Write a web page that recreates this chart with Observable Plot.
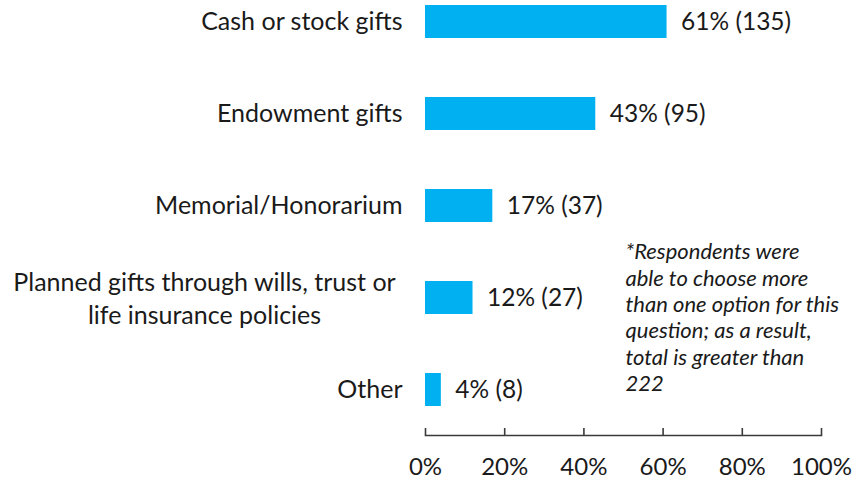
<!DOCTYPE html>
<html>
<head>
<meta charset="utf-8">
<script src="https://cdn.jsdelivr.net/npm/d3@7"></script>
<script src="https://cdn.jsdelivr.net/npm/@observablehq/plot@0.6"></script>
<style>
  html, body { margin: 0; padding: 0; background: #fff; }
  #chart svg { display: block; }
</style>
</head>
<body>
<div id="chart"></div>
<script>
const categories = ["Cash or stock gifts", "Endowment gifts", "Memorial/Honorarium", "Planned gifts through wills, trust or life insurance policies", "Other"];
const displayLabels = ["Cash or stock gifts", "Endowment gifts", "Memorial/Honorarium", "Planned gifts through wills, trust or\nlife insurance policies", "Other"];
const shares = [0.61, 0.43, 0.17, 0.12, 0.04];
const counts = [135, 95, 37, 27, 8];
const xTicks = [0, 0.2, 0.4, 0.6, 0.8, 1.0];
const note = "*Respondents were\nable to choose more\nthan one option for this\nquestion; as a result,\ntotal is greater than\n222";

const data = categories.map((c, i) => ({category: c, label: displayLabels[i], share: shares[i], count: counts[i]}));
const singleLine = data.filter(d => !d.label.includes("\n"));
const multiLine = data.filter(d => d.label.includes("\n"));

const font = "Lato, Carlito, Calibri, 'Open Sans', sans-serif";
const ink = "#1a1a1a";

const chart = Plot.plot({
  width: 854,
  height: 482,
  marginLeft: 425,
  marginRight: 33,
  marginTop: 0,
  marginBottom: 47,
  style: {fontFamily: font, background: "#fff", color: ink},
  x: {domain: [0, 1], axis: null},
  y: {domain: categories, paddingInner: 0.64, paddingOuter: 0.184, align: 0.15, axis: null},
  marks: [
    Plot.barX(data, {y: "category", x: "share", fill: "#00B0F0"}),
    Plot.text(data, {y: "category", x: "share", text: d => `${Math.round(d.share * 100)}% (${d.count})`,
      textAnchor: "start", dx: 14, fontSize: 24.5, fill: ink}),
    Plot.text(singleLine, {y: "category", frameAnchor: "left", text: "label",
      textAnchor: "end", dx: -23, fontSize: 25, fill: ink}),
    Plot.text(multiLine, {y: "category", frameAnchor: "left", text: "label",
      textAnchor: "middle", dx: -221, dy: -1, lineHeight: 1.32, fontSize: 25, fill: ink}),
    Plot.frame({anchor: "bottom", stroke: "#3a3a3a", strokeWidth: 1.6}),
    Plot.tickX(xTicks, {x: d => d, insetTop: 428, stroke: "#3a3a3a", strokeWidth: 1.6}),
    Plot.axisX({ticks: xTicks, tickFormat: d3.format(".0%"), tickSize: 0, tickPadding: 22,
      fontSize: 24, fill: ink, label: null}),
    Plot.text([note], {frameAnchor: "top-left", text: d => d, dx: 200, dy: 240,
      lineAnchor: "top", lineHeight: 1.2, textAnchor: "start", fontSize: 22, fontStyle: "italic", fill: ink})
  ]
});
document.getElementById("chart").appendChild(chart);
</script>
</body>
</html>
